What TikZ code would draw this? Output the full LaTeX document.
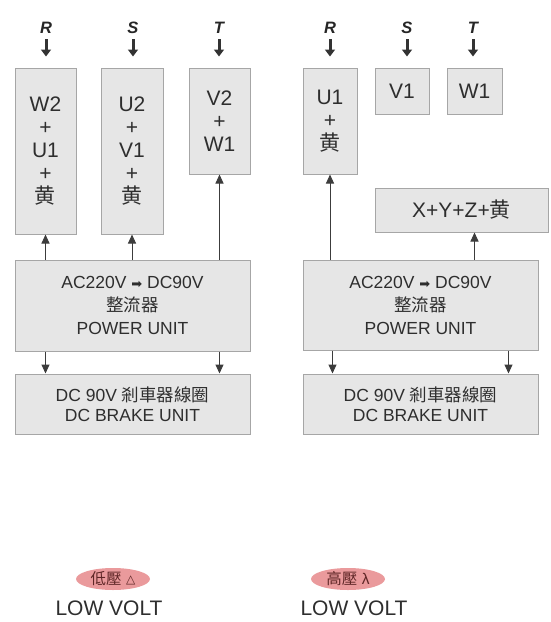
\documentclass[tikz,border=0pt]{standalone}
\usepackage{fontspec}
\setmainfont{Liberation Sans}
\newfontfamily\cjk{Noto Sans CJK TC}
\newfontfamily\symf{DejaVu Sans}
\usetikzlibrary{arrows.meta, shapes.geometric, positioning}
\definecolor{boxfill}{HTML}{E6E6E6}
\definecolor{boxline}{HTML}{A6A6A6}
\definecolor{inktext}{HTML}{2E2E2E}
\definecolor{wire}{HTML}{3C3C3C}
\definecolor{pinkfill}{HTML}{EA9A9C}
\definecolor{pinktext}{HTML}{5E2626}
\begin{document}
\begin{tikzpicture}[
  x=1pt, y=-1pt,
  font=\fontsize{21}{23}\selectfont, text=inktext,
  term/.style={draw=boxline, fill=boxfill, line width=1pt, align=center, inner sep=0pt},
  unit/.style={term, font=\fontsize{17.5}{23}\selectfont},
  phase/.style={font=\fontsize{16.5}{18}\selectfont\bfseries\itshape, text=black!85},
  feed/.style={line width=3pt, black!80, -{Triangle[length=7pt, width=10pt]},
               shorten <=2pt, shorten >=11pt},
  link/.style={line width=1pt, wire, -{Triangle[length=9pt, width=8pt]}},
  volt/.style={ellipse, fill=pinkfill, text=pinktext, inner sep=0pt,
               minimum width=74pt, minimum height=22pt, font=\fontsize{15.5}{17}\selectfont}
]
\useasboundingbox (0,0) rectangle (550,622);

\node[term, minimum width=61pt, minimum height=166pt] (bW2) at (45.5,151) {W2\\+\\U1\\+\\{\cjk 黄}};
\node[term, minimum width=62pt, minimum height=166pt] (bU2) at (132,151)  {U2\\+\\V1\\+\\{\cjk 黄}};
\node[term, minimum width=61pt, minimum height=106pt] (bV2) at (219.5,121) {V2\\+\\W1};
\node[unit, minimum width=235pt, minimum height=91pt] (pwrL) at (132.5,305.5) {AC220V {\symf\fontsize{13}{13}\selectfont ➡} DC90V\\{\cjk 整流器}\\POWER UNIT};
\node[unit, minimum width=235pt, minimum height=60pt, font=\fontsize{17.5}{20}\selectfont] (brkL) at (132.5,404) {DC 90V {\cjk 剎車器線圈}\\DC BRAKE UNIT};

\node[term, minimum width=54pt, minimum height=106pt] (bU1) at (330,121)   {U1\\+\\{\cjk 黄}};
\node[term, minimum width=54pt, minimum height=46pt]  (bV1) at (402,91)    {V1};
\node[term, minimum width=55pt, minimum height=46pt]  (bW1) at (474.5,91)  {W1};
\node[term, minimum width=173pt, minimum height=44pt] (bXYZ) at (461.5,210) {X+Y+Z+{\cjk 黄}};
\node[unit, minimum width=235pt, minimum height=90pt] (pwrR) at (420.5,305) {AC220V {\symf\fontsize{13}{13}\selectfont ➡} DC90V\\{\cjk 整流器}\\POWER UNIT};
\node[unit, minimum width=235pt, minimum height=60pt, font=\fontsize{17.5}{20}\selectfont] (brkR) at (420.5,404) {DC 90V {\cjk 剎車器線圈}\\DC BRAKE UNIT};

\node[phase] (lR1) at (46,28)  {R};
\node[phase] (lS1) at (133,28) {S};
\node[phase] (lT1) at (219,28) {T};
\node[phase] (lR2) at (330,28) {R};
\node[phase] (lS2) at (407,28) {S};
\node[phase] (lT2) at (473,28) {T};
\draw[feed] (lR1) -- (lR1 |- bW2.north);
\draw[feed] (lS1) -- (lS1 |- bU2.north);
\draw[feed] (lT1) -- (lT1 |- bV2.north);
\draw[feed] (lR2) -- (lR2 |- bU1.north);
\draw[feed] (lS2) -- (lS2 |- bV1.north);
\draw[feed] (lT2) -- (lT2 |- bW1.north);

\draw[link] (pwrL.north -| bW2) -- (bW2.south);
\draw[link] (pwrL.north -| bU2) -- (bU2.south);
\draw[link] (pwrL.north -| bV2) -- (bV2.south);
\draw[link] (pwrL.south -| bW2) -- (brkL.north -| bW2);
\draw[link] (pwrL.south -| bV2) -- (brkL.north -| bV2);
\draw[link] (pwrR.north -| bU1) -- (bU1.south);
\draw[link] (pwrR.north -| bW1) -- (bXYZ.south -| bW1);
\draw[link] ([xshift=30pt]pwrR.south west) -- ([xshift=30pt]brkR.north west);
\draw[link] ([xshift=-30pt]pwrR.south east) -- ([xshift=-30pt]brkR.north east);

\node[volt] (lowD) at (113,579) {{\cjk 低壓} \raisebox{1.5pt}{\symf\fontsize{12}{12}\selectfont △}};
\node[volt] (highY) at (348,579) {{\cjk 高壓} λ};
\node (capD) at (109,608) {LOW VOLT};
\node (capY) at (354,608) {LOW VOLT};
\end{tikzpicture}
\end{document}
